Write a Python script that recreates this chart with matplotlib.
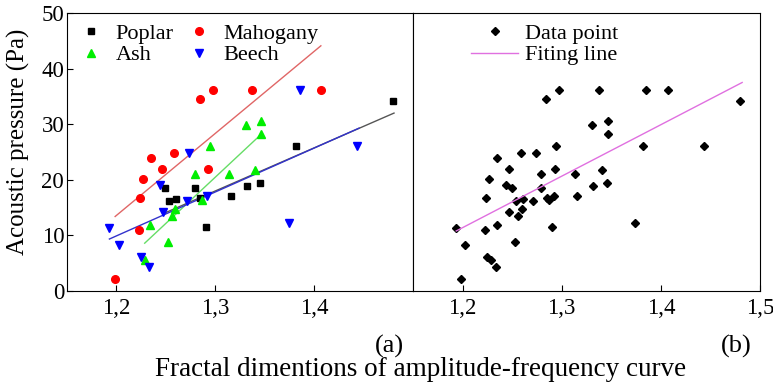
import matplotlib.pyplot as plt
import numpy as np

# Fractal dimension (x) vs acoustic pressure (y) for each wood
poplar_x = [1.2495, 1.2535, 1.2606, 1.2795, 1.2849, 1.2902, 1.3158, 1.3316, 1.3455, 1.3821, 1.4801]
poplar_y = [18.6, 16.2, 16.5, 18.5, 16.8, 11.6, 17.0, 18.9, 19.4, 26.0, 34.1]

mahog_x = [1.1987, 1.2226, 1.2236, 1.2266, 1.2347, 1.2465, 1.2586, 1.2845, 1.2929, 1.2977, 1.3374, 1.4068]
mahog_y = [2.2, 10.9, 16.7, 20.2, 23.9, 22.0, 24.9, 34.5, 21.9, 36.1, 36.1, 36.1]

ash_x = [1.2286, 1.2343, 1.2525, 1.2559, 1.2596, 1.2869, 1.2795, 1.2946, 1.3135, 1.3306, 1.3404, 1.3465, 1.3465]
ash_y = [5.6, 11.9, 8.9, 13.4, 14.7, 16.4, 21.0, 26.1, 21.1, 29.8, 21.7, 30.6, 28.2]

beech_x = [1.1929, 1.2027, 1.2245, 1.2333, 1.2438, 1.2468, 1.2714, 1.2919, 1.3744, 1.2737, 1.3852, 1.4431]
beech_y = [11.4, 8.3, 6.1, 4.3, 19.0, 14.2, 16.2, 17.1, 12.2, 24.9, 36.1, 26.0]

# fitted line end points
poplar_fit_x, poplar_fit_y = [1.2485, 1.4808], [14.0, 32.0]
mahog_fit_x, mahog_fit_y = [1.1987, 1.4068], [13.4, 44.1]
ash_fit_x, ash_fit_y = [1.2286, 1.3465], [8.6, 28.2]
beech_fit_x, beech_fit_y = [1.1929, 1.4455], [9.35, 29.3]
all_fit_x, all_fit_y = [1.1936, 1.482], [10.8, 37.5]

xticks = [1.2, 1.3, 1.4, 1.5]
xtick_labels = ["1,2", "1,3", "1,4", "1,5"]
yticks = [0, 10, 20, 30, 40, 50]

plt.rcParams['font.family'] = ['Liberation Serif', 'DejaVu Serif']
fs_tick = 16.5
fs_leg = 16
fs_lab = 18

fig = plt.figure(figsize=(7.73, 3.85), dpi=100)
ax1 = fig.add_axes([67 / 773, 94 / 385, 346 / 773, 278 / 385])
ax2 = fig.add_axes([413 / 773, 94 / 385, 347 / 773, 278 / 385])

# (a) per species
ax1.plot(mahog_fit_x, mahog_fit_y, color='#e06666', lw=1)
ax1.plot(ash_fit_x, ash_fit_y, color='#66dd66', lw=1)
ax1.plot(poplar_fit_x, poplar_fit_y, color='#555555', lw=1)
ax1.plot(beech_fit_x, beech_fit_y, color='#3333cc', lw=1)
ax1.plot(poplar_x, poplar_y, 's', color='black', ms=5, label='Poplar')
ax1.plot(ash_x, ash_y, '^', color='#00ee00', ms=6, label='Ash')
ax1.plot(mahog_x, mahog_y, 'o', color='#ff0000', ms=5.5, label='Mahogany')
ax1.plot(beech_x, beech_y, 'v', color='#0000ff', ms=6, label='Beech')
ax1.legend(ncol=2, loc='upper left', bbox_to_anchor=(-0.026, 1.035), frameon=False,
           fontsize=fs_leg, handlelength=1.2, handletextpad=0.5, columnspacing=0.55,
           labelspacing=0.05)

# (b) all data
all_x = poplar_x + mahog_x + ash_x + beech_x
all_y = poplar_y + mahog_y + ash_y + beech_y
ax2.plot(all_x, all_y, 'D', color='black', ms=4.5, label='Data point')
ax2.plot(all_fit_x, all_fit_y, color='#e070e0', lw=1, label='Fiting line')
ax2.legend(loc='upper left', bbox_to_anchor=(0.11, 1.035), frameon=False,
           fontsize=fs_leg, handlelength=2.1, handletextpad=0.3, labelspacing=0.05)

for ax in (ax1, ax2):
    ax.set_xlim(1.15, 1.5)
    ax.set_ylim(0, 50)
    ax.set_xticks(xticks)
    ax.tick_params(direction='in', length=4, labelsize=fs_tick, width=0.8, pad=5)
    for s in ax.spines.values():
        s.set_linewidth(0.8)

ax1.set_xticks(xticks[:3])
ax1.set_xticklabels(xtick_labels[:3])
ax2.set_xticklabels(xtick_labels)
ax1.set_yticks(yticks)
ax1.tick_params(axis='y', pad=2)
ax1.set_ylabel('Acoustic pressure (Pa)', fontsize=fs_lab)
ax1.yaxis.set_label_coords(-0.108, 0.535)
ax2.set_yticks([])

fig.text(389 / 773, 1 - 346 / 385, '(a)', fontsize=19, ha='center', va='center')
fig.text(736 / 773, 1 - 346 / 385, '(b)', fontsize=19, ha='center', va='center')
fig.text(421 / 773, 1 - 369 / 385, 'Fractal dimentions of amplitude-frequency curve',
         fontsize=19.5, ha='center', va='center')

fig.savefig('out.png', dpi=100)
